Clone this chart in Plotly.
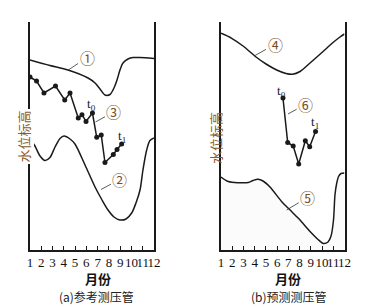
import plotly.graph_objects as go

W, H = 368, 308

# ---- data (month, water level in arbitrary units) ----
months = list(range(1, 13))
tick_labels = [str(m) for m in months]

# (a) reference piezometer
c1_x = [1.00, 2.77, 4.37, 6.15, 6.77, 7.21, 7.65, 8.10, 8.45, 8.72, 8.98, 9.25, 9.69, 10.14, 10.76, 12.00]
c1_y = [190, 184.5, 180, 172, 167, 161, 155, 155.5, 162, 170, 180, 187, 191, 192.5, 192.5, 191.5]

c2_x = [1.00, 1.44, 1.89, 2.33, 2.77, 3.22, 3.66, 4.02, 4.55, 4.99, 5.88, 6.77, 7.39, 7.92, 8.45, 8.98,
        9.52, 10.02, 10.40, 10.76, 11.02, 11.35, 11.64, 12.00]
c2_y = [111, 104, 94, 89.5, 92.5, 103, 111.5, 114, 111, 106, 85, 63, 50, 40, 33, 30,
        31, 37, 47, 60, 80, 100, 109.5, 112]

c3_x = [1.00, 1.58, 2.24, 3.26, 4.08, 4.55, 5.28, 5.61, 5.97, 6.54, 6.92, 7.32, 7.65, 8.39, 8.72, 9.13]
c3_y = [173, 169, 157, 164, 150, 157, 132, 135.3, 128.5, 137, 112.7, 115, 87.5, 95.5, 100.5, 106]

# (b) predicted piezometer
c4_x = [1.00, 1.95, 2.96, 4.12, 5.01, 5.96, 6.79, 7.37, 8.04, 8.93, 10.09, 10.98, 11.60, 12.00]
c4_y = [216.7, 211.7, 204, 193, 186, 180, 176.5, 175.7, 178.5, 187, 198.5, 207.5, 213, 216]

c5_x = [1.00, 1.65, 2.51, 3.43, 3.85, 4.30, 4.74, 5.36, 6.41, 7.15, 7.89, 9.08, 9.64, 10.11, 10.53,
        10.80, 11.02, 11.15, 11.31, 11.47, 11.69, 12.00]
c5_y = [73, 68.5, 67.3, 67.5, 69.5, 70.7, 69, 63, 48.3, 40, 31.7, 16.7, 10.5, 6.5, 8,
        14, 30, 55, 67, 73.5, 76.5, 77]

c6_x = [6.52, 6.94, 7.43, 7.92, 8.51, 8.90, 9.42]
c6_y = [152, 107.5, 104, 86, 109.3, 103.3, 118.5]

# curve labels: (text, curve point x, y, label x, y, axis)
labels = [
    ("①", 4.40, 180, 6.06, 192.5, 1),
    ("②", 7.30, 60.5, 8.98, 70.7, 1),
    ("③", 6.81, 128, 8.45, 138.3, 1),
    ("④", 4.03, 194.5, 5.81, 205.7, 2),
    ("⑤", 6.85, 40, 8.72, 52.7, 2),
    ("⑥", 6.97, 136, 8.54, 145.7, 2),
]
time_marks = [
    ("t<sub>0</sub>", 6.47, 145, 1),
    ("t<sub>1</sub>", 9.13, 114, 1),
    ("t<sub>0</sub>", 6.41, 158, 2),
    ("t<sub>1</sub>", 9.37, 127, 2),
]

LINE = "#1a1a1a"
fig = go.Figure()

def curve(x, y, ax, fill=False):
    fig.add_trace(go.Scatter(
        x=x, y=y, mode="lines", xaxis=f"x{ax if ax > 1 else ''}", yaxis=f"y{ax if ax > 1 else ''}",
        line=dict(color=LINE, width=1.5, shape="spline", smoothing=0.8),
        fill="tozeroy" if fill else None, fillcolor="rgba(0,0,0,0.015)",
        showlegend=False, hoverinfo="skip"))

def zigzag(x, y, ax):
    fig.add_trace(go.Scatter(
        x=x, y=y, mode="lines+markers", xaxis=f"x{ax if ax > 1 else ''}", yaxis=f"y{ax if ax > 1 else ''}",
        line=dict(color=LINE, width=1.5), marker=dict(color=LINE, size=5),
        showlegend=False, hoverinfo="skip"))

curve(c1_x, c1_y, 1)
curve(c2_x, c2_y, 1)
zigzag(c3_x, c3_y, 1)
curve(c4_x, c4_y, 2)
curve(c5_x, c5_y, 2, fill=True)
zigzag(c6_x, c6_y, 2)

annotations = []
LABEL_COL = "#7a4e22"
for txt, px, py, lx, ly, ax in labels:
    s = "" if ax == 1 else "2"
    annotations.append(dict(
        x=px, y=py, xref="x" + s, yref="y" + s, ax=lx, ay=ly, axref="x" + s, ayref="y" + s,
        text=txt, showarrow=True, arrowhead=0, arrowwidth=0.8, arrowcolor="#333",
        standoff=0, startstandoff=0,
        font=dict(family="Noto Sans CJK SC", size=15, color=LABEL_COL)))
for txt, tx, ty, ax in time_marks:
    s = "" if ax == 1 else "2"
    annotations.append(dict(
        x=tx, y=ty, xref="x" + s, yref="y" + s, text=txt, showarrow=False,
        xanchor="center", yanchor="middle",
        font=dict(family="Liberation Serif", size=13, color="#1a1a2e")))

def paper_text(cx, cy, text, font, **kw):
    annotations.append(dict(x=cx / W, y=1 - cy / H, xref="paper", yref="paper", text=text,
                            showarrow=False, xanchor="center", yanchor="middle", font=font, **kw))

# y-axis titles (rotated)
paper_text(22.5, 137, "水位标高", dict(family="Noto Sans CJK SC", size=13, color="#8a5a2b"),
           textangle=-90, bgcolor="white", borderpad=1)
paper_text(215, 138, "水位标高", dict(family="Noto Sans CJK SC", size=13, color="#8a5a2b"),
           textangle=-90)
for cx, t in [(97.5, "月份"), (287.5, "月份")]:
    paper_text(cx, 278.5, "<b>" + t + "</b>", dict(family="Noto Sans CJK SC", size=13, color="#111"))
for cx, t in [(96.7, "(a)参考测压管"), (288.5, "(b)预测测压管")]:
    paper_text(cx, 296, t, dict(family="Noto Sans CJK SC", size=12, color="#222"))

ydom = [(H - 250) / H, (H - 22) / H]
xcommon = dict(range=[1, 12], tickvals=months, ticktext=tick_labels, ticks="inside", ticklen=4,
               tickwidth=1, tickcolor=LINE, showline=True, linecolor=LINE, linewidth=1.5,
               showgrid=False, zeroline=False, ticklabelstandoff=0, tickangle=0, automargin=False,
               tickfont=dict(family="Liberation Serif", size=13, color="#111"))
ycommon = dict(range=[0, 228], domain=ydom, showline=True, mirror=True, linecolor=LINE, linewidth=1.5,
               showticklabels=False, ticks="", showgrid=False, zeroline=False, automargin=False)

fig.update_layout(
    template="none",
    width=W, height=H, margin=dict(l=0, r=0, t=0, b=0, pad=0),
    paper_bgcolor="white", plot_bgcolor="white",
    xaxis=dict(domain=[30 / W, 154 / W], anchor="y", **xcommon),
    yaxis=dict(anchor="x", **ycommon),
    xaxis2=dict(domain=[221 / W, 344.5 / W], anchor="y2", **xcommon),
    yaxis2=dict(anchor="x2", **ycommon),
    annotations=annotations,
)
fig.write_html("out.html", config={"displayModeBar": False},
               post_script="document.body.style.margin='0';document.body.style.overflow='hidden';")
